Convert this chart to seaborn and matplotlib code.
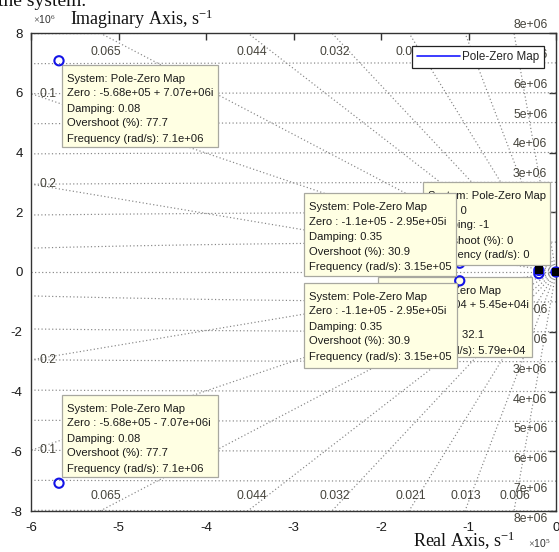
import numpy as np
import pandas as pd
import matplotlib
matplotlib.use("Agg")
import matplotlib.pyplot as plt
import seaborn as sns
from matplotlib.patches import Rectangle
from matplotlib.lines import Line2D

# ---------------- data ----------------
zero_re = [-5.68e5, -5.68e5, -1.1e5, -1.1e5, -1.96e4, -1.96e4, 0.0]
zero_im = [7.07e6, -7.07e6, 2.95e5, -2.95e5, 5.45e4, -5.45e4, 0.0]
tip_re = [-1.96e4, 0.0]
tip_im = [5.45e4, 0.0]

damping = [0.006, 0.013, 0.021, 0.032, 0.044, 0.065, 0.1, 0.2]
damping_labels = ["0.006", "0.013", "0.021", "0.032", "0.044", "0.065", "0.1", "0.2"]
freqs = [1e6, 2e6, 3e6, 4e6, 5e6, 6e6, 7e6, 8e6]
freq_labels = ["1e+06", "2e+06", "3e+06", "4e+06", "5e+06", "6e+06", "7e+06", "8e+06"]

xticks = [-6, -5, -4, -3, -2, -1, 0]
yticks = [-8, -6, -4, -2, 0, 2, 4, 6, 8]
XS, YS = 1e5, 1e6

tip1 = ["System: Pole-Zero Map", "Zero : -5.68e+05 + 7.07e+06i", "Damping: 0.08",
        "Overshoot (%): 77.7", "Frequency (rad/s): 7.1e+06"]
tip2 = ["System: Pole-Zero Map", "Zero : -5.68e+05 - 7.07e+06i", "Damping: 0.08",
        "Overshoot (%): 77.7", "Frequency (rad/s): 7.1e+06"]
tip3 = ["System: Pole-Zero Map", "Zero : -1.1e+05 - 2.95e+05i", "Damping: 0.35",
        "Overshoot (%): 30.9", "Frequency (rad/s): 3.15e+05"]
tip4 = ["System: Pole-Zero Map", "Zero : -1.1e+05 - 2.95e+05i", "Damping: 0.35",
        "Overshoot (%): 30.9", "Frequency (rad/s): 3.15e+05"]
tip5 = ["System: Pole-Zero Map", "Zero : 0", "Damping: -1",
        "Overshoot (%): 0", "Frequency (rad/s): 0"]
tip6 = ["System: Pole-Zero Map", "Zero : -1.96e+04 + 5.45e+04i", "Damping: 0.34",
        "Overshoot (%): 32.1", "Frequency (rad/s): 5.79e+04"]

# ---------------- style ----------------
W, H = 559, 552
sns.set_theme(style="white")
plt.rcParams["font.family"] = ["Liberation Sans", "DejaVu Sans"]
plt.rcParams["mathtext.fontset"] = "custom"
plt.rcParams["mathtext.rm"] = "Liberation Serif"
plt.rcParams["mathtext.it"] = "Liberation Serif:italic"

fig = plt.figure(figsize=(W / 100, H / 100), dpi=100)
fig.patch.set_facecolor("white")
L, R, T, B = 31, 556, 33, 511
ax = fig.add_axes([L / W, 1 - B / H, (R - L) / W, (B - T) / H])
ax.set_facecolor("white")
ax.set_xlim(-6, 0)
ax.set_ylim(-8, 8)

def fx(px):
    return px / W

def fy(py):
    return 1 - py / H

gridc = "#858585"
labc = "#46443c"
dot = dict(color=gridc, lw=0.85, linestyle=(0, (1, 2)), zorder=1)
glab_fs = 8.8

# frequency circles
th = np.linspace(np.pi / 2, 3 * np.pi / 2, 800)
for w, lab in zip(freqs, freq_labels):
    ax.plot(w * np.cos(th) / XS, w * np.sin(th) / YS, **dot)
    for sgn in (1, -1):
        ax.text(-0.1, sgn * (w / YS + 0.27), lab, ha="right", va="center",
                fontsize=glab_fs, color=labc, zorder=3, clip_on=False)

# damping rays
Rr = 2e7
for z, lab in zip(damping, damping_labels):
    s = np.sqrt(1 - z ** 2)
    for sgn in (1, -1):
        ax.plot([0, -z * Rr / XS], [0, sgn * s * Rr / YS], **dot)
        if z >= 0.1:
            ylab = sgn * (6e5 * s / z) / YS
            ax.text(-5.8, ylab, lab, ha="center", va="center", fontsize=glab_fs,
                    color=labc, zorder=3)
        else:
            xlab = -(7.9e6 * z / s) / XS
            ax.text(xlab, 7.36 if sgn > 0 else -7.5, lab, ha="center",
                    va="center", fontsize=glab_fs, color=labc, zorder=3)
# real axis
ax.plot([-6, 0], [0, 0], **dot)

# zeros
zdf = pd.DataFrame({"re": np.array(zero_re) / XS, "im": np.array(zero_im) / YS})
sns.scatterplot(data=zdf, x="re", y="im", ax=ax, marker="o", s=44,
                facecolor="none", edgecolor="#1414e6", linewidth=1.5,
                zorder=10.5, clip_on=False, legend=False)
tdf = pd.DataFrame({"re": np.array(tip_re) / XS, "im": np.array(tip_im) / YS})
sns.scatterplot(data=tdf, x="re", y="im", ax=ax, marker="s", s=34,
                color="black", edgecolor="black", linewidth=0.0,
                zorder=14, clip_on=False, legend=False)

# datatips
def tooltip(lines, l, t, r, b, z):
    rect = Rectangle((fx(l), fy(b)), fx(r) - fx(l), fy(t) - fy(b),
                     transform=fig.transFigure, facecolor="#ffffe3",
                     edgecolor="#a8a8a0", lw=0.9, zorder=z)
    ax.add_patch(rect)
    for i, s in enumerate(lines):
        ax.text(fx(l + 5), fy(t + 13.5 + 15 * i), s, transform=fig.transFigure,
                ha="left", va="center", fontsize=8.1, color="#1a1a1a",
                zorder=z + 0.1)

tooltip(tip1, 62, 65, 218, 147, 10)
tooltip(tip2, 62, 395, 218, 477, 10)
tooltip(tip6, 378, 277, 532, 357, 10)
tooltip(tip5, 423, 182, 550, 265, 11)
tooltip(tip3, 304, 193, 456, 276, 12)
tooltip(tip4, 304, 283, 457, 368, 13)

# axes styling
ax.set_xticks(xticks)
ax.set_yticks(yticks)
ax.set_xticklabels([str(v) for v in xticks])
ax.set_yticklabels([str(v) for v in yticks])
ax.tick_params(direction="in", length=5, width=1, color="#333333",
               top=True, right=True, labelsize=9.5, labelcolor="#1a1a1a", pad=6)
ax.tick_params(axis="x", pad=8)
for sp in ax.spines.values():
    sp.set_visible(True)
    sp.set_color("#333333")
    sp.set_linewidth(1.0)
ax.set_xlabel("")
ax.set_ylabel("")

# legend
h = Line2D([], [], color="#1a1aff", lw=1.2)
leg = ax.legend([h], ["Pole-Zero Map"], loc="upper right",
                bbox_to_anchor=(fx(544), fy(46)), bbox_transform=fig.transFigure,
                fontsize=8.4, frameon=True, fancybox=False, framealpha=1,
                edgecolor="#222222", borderpad=0.42, handlelength=3.7,
                handletextpad=0.15, borderaxespad=0)
leg.get_frame().set_linewidth(0.9)
leg.set_zorder(20)

# axis labels and multipliers
fig.text(fx(70), fy(25), "Imaginary Axis, s$^{-1}$", family="Liberation Serif",
         fontsize=13, va="baseline", ha="left", color="#111111")
fig.text(fx(413), fy(547), "Real Axis, s$^{-1}$", family="Liberation Serif",
         fontsize=13, va="baseline", ha="left", color="#111111")
fig.text(fx(33), fy(24), r"$\times$10$^{6}$", fontsize=7.5, color="#333333",
         va="baseline", ha="left")
fig.text(fx(528), fy(548), r"$\times$10$^{5}$", fontsize=7.5, color="#333333",
         va="baseline", ha="left")
fig.text(fx(-2), fy(6), "the system.", family="Liberation Serif", fontsize=14,
         va="baseline", ha="left", color="#111111")

fig.savefig("out.png", dpi=100)
